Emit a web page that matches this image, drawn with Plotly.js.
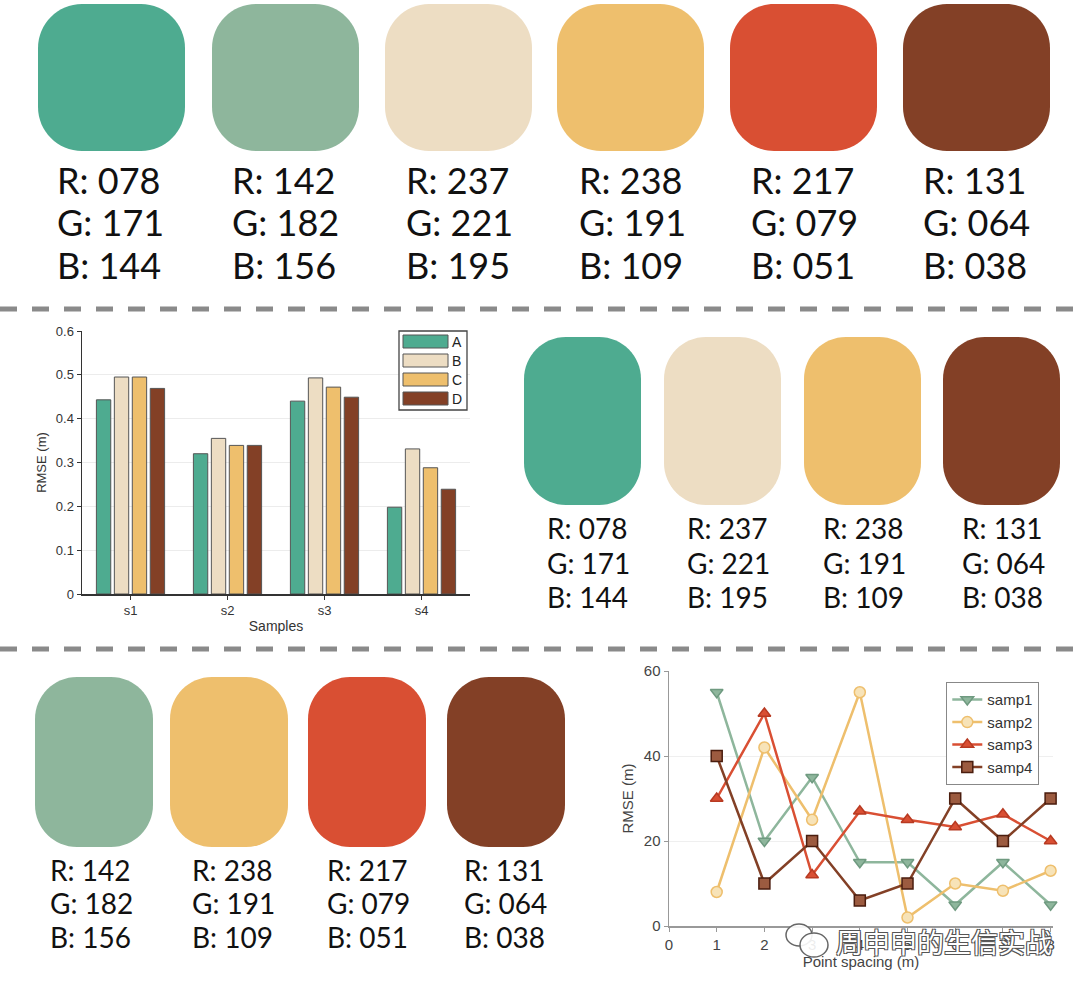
<!DOCTYPE html>
<html>
<head>
<meta charset="utf-8">
<script src="https://cdn.plot.ly/plotly-3.0.1.min.js"></script>
<style>html,body{margin:0;padding:0;background:#fff;}#chart{width:1080px;height:989px;}</style>
</head>
<body>
<div id="chart"></div>
<script>
// ---------- palette data ----------
const topR = [78, 142, 237, 238, 217, 131];
const topG = [171, 182, 221, 191, 79, 64];
const topB = [144, 156, 195, 109, 51, 38];
const midR = [78, 237, 238, 131];
const midG = [171, 221, 191, 64];
const midB = [144, 195, 109, 38];
const botR = [142, 238, 217, 131];
const botG = [182, 191, 79, 64];
const botB = [156, 109, 51, 38];

// ---------- bar chart data ----------
const barCats = ['s1', 's2', 's3', 's4'];
const barNames = ['A', 'B', 'C', 'D'];
const barA = [0.443, 0.320, 0.440, 0.198];
const barB = [0.495, 0.355, 0.493, 0.331];
const barC = [0.495, 0.339, 0.472, 0.288];
const barD = [0.469, 0.339, 0.449, 0.239];

// ---------- line chart data ----------
const spacing = [1, 2, 3, 4, 5, 6, 7, 8];
const samp1 = [55, 20, 35, 15, 15, 5, 15, 5];
const samp2 = [8, 42, 25, 55, 2, 10, 8.3, 13];
const samp3 = [30, 50, 12, 27, 25, 23.3, 26.3, 20];
const samp4 = [40, 10, 20, 6, 10, 30, 20, 30];
const lineNames = ['samp1', 'samp2', 'samp3', 'samp4'];

const W = 1080, H = 989;
const px = x => x / W;
const py = y => 1 - y / H;
const rgb = (r, g, b) => `rgb(${r},${g},${b})`;
const pad3 = v => String(v).padStart(3, '0');

function roundRect(x0, y0, x1, y1, r) {
  const k = 0.5523 * r;
  const P = (x, y) => `${px(x).toFixed(5)},${py(y).toFixed(5)}`;
  return `M${P(x0 + r, y0)} L${P(x1 - r, y0)} C${P(x1 - r + k, y0)} ${P(x1, y0 + r - k)} ${P(x1, y0 + r)} ` +
    `L${P(x1, y1 - r)} C${P(x1, y1 - r + k)} ${P(x1 - r + k, y1)} ${P(x1 - r, y1)} ` +
    `L${P(x0 + r, y1)} C${P(x0 + r - k, y1)} ${P(x0, y1 - r + k)} ${P(x0, y1 - r)} ` +
    `L${P(x0, y0 + r)} C${P(x0, y0 + r - k)} ${P(x0 + r - k, y0)} ${P(x0 + r, y0)} Z`;
}

const shapes = [];
const annotations = [];

function addRow(R, G, B, lefts, w, y0, y1, rad, textLefts, textYs, fsize) {
  R.forEach((_, i) => {
    const c = rgb(R[i], G[i], B[i]);
    shapes.push({type: 'path', xref: 'paper', yref: 'paper', path: roundRect(lefts[i], y0, lefts[i] + w, y1, rad),
      fillcolor: c, line: {width: 0}, layer: 'below'});
    const lines = ['R: ' + pad3(R[i]), 'G: ' + pad3(G[i]), 'B: ' + pad3(B[i])];
    lines.forEach((t, j) => {
      annotations.push({xref: 'paper', yref: 'paper', x: px(textLefts[i]), y: py(textYs[j]), text: t,
        showarrow: false, xanchor: 'left', yanchor: 'middle',
        font: {family: 'Lato, sans-serif', size: fsize, color: '#111'}});
    });
  });
}

addRow(topR, topG, topB, [38, 212, 385, 557, 730, 903], 147, 4, 151, 44,
  [55, 230, 404, 577, 749, 921], [180, 222, 265], 36);
addRow(midR, midG, midB, [524, 664, 804, 943], 117, 337, 505, 42,
  [545, 685, 821, 960], [528, 563, 597], 28);
addRow(botR, botG, botB, [35, 170, 308, 447], 118, 677, 847, 42,
  [48, 190, 325, 462], [870, 903, 937], 28);

// dashed separators
[309, 649].forEach(y => shapes.push({type: 'line', xref: 'paper', yref: 'paper', x0: 0, x1: 1, y0: py(y), y1: py(y),
  line: {color: '#8a8a8a', width: 5, dash: '17px,15px'}}));

// bar legend (drawn)
const barColors = [rgb(78,171,144), rgb(237,221,195), rgb(238,191,109), rgb(131,64,38)];
shapes.push({type: 'rect', xref: 'paper', yref: 'paper', x0: px(399), x1: px(467), y0: py(331), y1: py(410),
  fillcolor: '#fff', line: {color: '#444', width: 1.3}});
barNames.forEach((n, i) => {
  const cy = 341.5 + i * 19;
  shapes.push({type: 'rect', xref: 'paper', yref: 'paper', x0: px(403), x1: px(448), y0: py(cy - 6.5), y1: py(cy + 6.5),
    fillcolor: barColors[i], line: {color: '#555', width: 1}});
  annotations.push({xref: 'paper', yref: 'paper', x: px(450), y: py(cy), text: n, showarrow: false,
    xanchor: 'left', yanchor: 'middle', font: {family: 'Liberation Sans, Arial, sans-serif', size: 14, color: '#222'}});
});

// watermark (WeChat-style icon + account name)
shapes.push({type: 'circle', xref: 'paper', yref: 'paper', x0: px(786), x1: px(812), y0: py(924), y1: py(946),
  fillcolor: 'rgba(255,255,255,0.9)', line: {color: '#666', width: 1.5}});
shapes.push({type: 'circle', xref: 'paper', yref: 'paper', x0: px(800), x1: px(828), y0: py(933), y1: py(957),
  fillcolor: 'rgba(255,255,255,0.9)', line: {color: '#666', width: 1.5}});
annotations.push({xref: 'paper', yref: 'paper', x: px(944), y: py(941), text: '周申申的生信实战', showarrow: false,
  xanchor: 'center', yanchor: 'middle',
  font: {family: 'Noto Sans CJK SC, sans-serif', size: 27, color: '#ffffff',
    shadow: '-1px -1px 0 #555, 1px -1px 0 #555, -1px 1px 0 #555, 1px 1px 0 #555'}});

const barSeries = [barA, barB, barC, barD];
const traces = barSeries.map((v, i) => ({
  type: 'bar', x: barCats, y: v, name: barNames[i], xaxis: 'x', yaxis: 'y', showlegend: false,
  marker: {color: barColors[i], line: {color: '#555', width: 1}}
}));

const lineStyles = [
  {color: rgb(142,182,156), symbol: 'triangle-down', fill: rgb(142,182,156), edge: '#6f9a80'},
  {color: rgb(238,191,109), symbol: 'circle', fill: '#f7e3b8', edge: rgb(238,191,109)},
  {color: rgb(217,79,51), symbol: 'triangle-up', fill: rgb(217,79,51), edge: '#b83a22'},
  {color: rgb(131,64,38), symbol: 'square', fill: '#9c5b40', edge: '#4a1d0e'}
];
[samp1, samp2, samp3, samp4].forEach((v, i) => {
  const s = lineStyles[i];
  traces.push({type: 'scatter', mode: 'lines+markers', x: spacing, y: v, name: lineNames[i],
    xaxis: 'x2', yaxis: 'y2', legend: 'legend2', cliponaxis: false,
    line: {color: s.color, width: 2.5},
    marker: {symbol: s.symbol, size: 11, color: s.fill, line: {color: s.edge, width: 1.5}}});
});

const tickFont1 = {family: 'Liberation Sans, Arial, sans-serif', size: 13, color: '#333'};
const tickFont2 = {family: 'Liberation Sans, Arial, sans-serif', size: 15, color: '#444'};

const layout = {
  width: W, height: H, margin: {l: 0, r: 0, t: 0, b: 0},
  paper_bgcolor: '#fff', plot_bgcolor: 'rgba(0,0,0,0)',
  bargap: 0.26, bargroupgap: 0.2, barmode: 'group',
  showlegend: true,
  xaxis: {domain: [px(82), px(470)], anchor: 'y', type: 'category', categoryarray: barCats, range: [-0.5, 3.5],
    showline: true, linecolor: '#333', linewidth: 1.5, ticks: 'outside', ticklen: 4, tickcolor: '#333',
    tickfont: tickFont1, showgrid: false, zeroline: false, automargin: false, fixedrange: true,
    title: {text: 'Samples', font: {family: 'Liberation Sans, Arial, sans-serif', size: 14, color: '#333'}, standoff: 4}},
  yaxis: {domain: [py(594), py(331)], anchor: 'x', range: [0, 0.6], dtick: 0.1, tick0: 0,
    showline: true, linecolor: '#333', linewidth: 1.5, ticks: 'outside', ticklen: 4, tickcolor: '#333',
    tickfont: tickFont1, showgrid: true, gridcolor: '#ececec', zeroline: false, automargin: false, fixedrange: true,
    title: {text: 'RMSE (m)', font: {family: 'Liberation Sans, Arial, sans-serif', size: 13, color: '#333'}, standoff: 6}},
  xaxis2: {domain: [px(669), px(1053)], anchor: 'y2', range: [0, 8.05], dtick: 1, tick0: 0,
    showline: true, linecolor: '#999', linewidth: 1.5, ticks: 'outside', ticklen: 4, tickcolor: '#999',
    tickfont: tickFont2, showgrid: false, zeroline: false, automargin: false, fixedrange: true,
    title: {text: 'Point spacing (m)', font: {family: 'Liberation Sans, Arial, sans-serif', size: 15, color: '#444'}, standoff: 4}},
  yaxis2: {domain: [py(926), py(671)], anchor: 'x2', range: [0, 60], dtick: 20,
    showline: true, linecolor: '#999', linewidth: 1.5, ticks: 'outside', ticklen: 4, tickcolor: '#999',
    tickfont: tickFont2, showgrid: true, gridcolor: '#efefef', zeroline: false, automargin: false, fixedrange: true,
    title: {text: 'RMSE (m)', font: {family: 'Liberation Sans, Arial, sans-serif', size: 15, color: '#444'}, standoff: 6}},
  legend2: {x: px(1039), xanchor: 'right', y: py(682), yanchor: 'top', bgcolor: '#fff', bordercolor: '#888',
    borderwidth: 1.3, font: {family: 'Liberation Sans, Arial, sans-serif', size: 15, color: '#333'}, tracegroupgap: 0},
  shapes: shapes,
  annotations: annotations
};

Plotly.newPlot('chart', traces, layout, {staticPlot: true, displayModeBar: false});
</script>
</body>
</html>
